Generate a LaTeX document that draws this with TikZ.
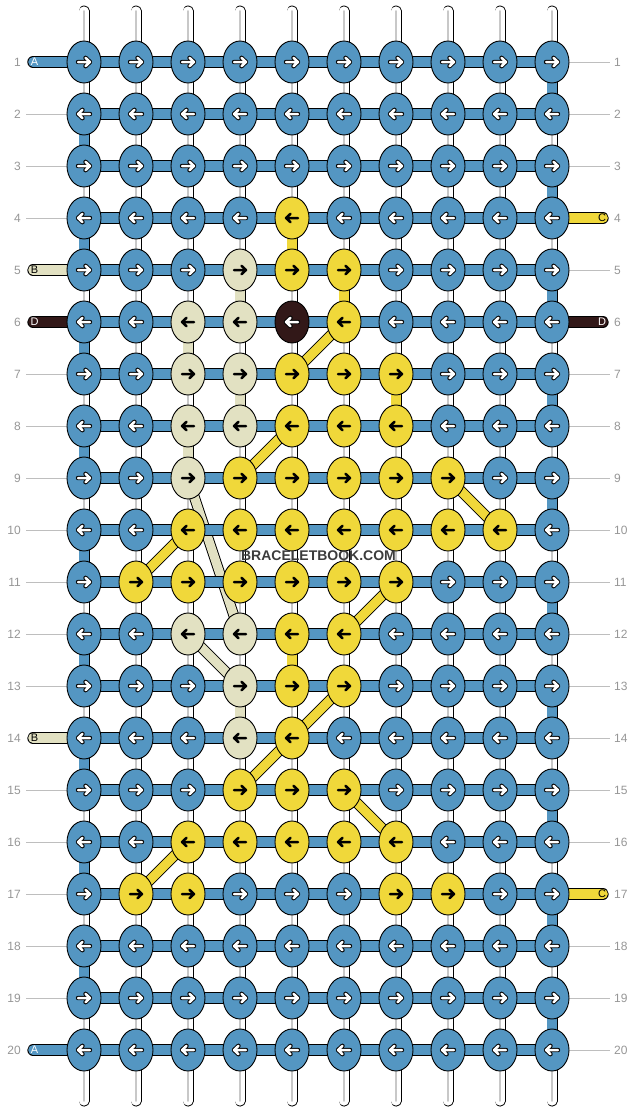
\documentclass[tikz,border=0pt]{standalone}
\usepackage{fontspec}
\setmainfont{Liberation Sans}
\usetikzlibrary{shapes.geometric}
\definecolor{kb}{RGB}{84,150,194}
\definecolor{ky}{RGB}{240,216,58}
\definecolor{ke}{RGB}{226,225,194}
\definecolor{kd}{RGB}{50,24,24}
\definecolor{lgray}{RGB}{200,200,200}
\definecolor{labgray}{RGB}{150,150,150}
\definecolor{linegray}{RGB}{190,190,190}
\definecolor{wmgray}{RGB}{60,60,60}
\colorlet{ob}{black}\colorlet{od}{black}\colorlet{oy}{ky}\colorlet{oe}{ke}
\colorlet{ib}{white}\colorlet{id}{white}\colorlet{iy}{black}\colorlet{ie}{black}
\pgfdeclarelayer{vlayer}\pgfdeclarelayer{dlayer}\pgfdeclarelayer{hlayer}
\pgfsetlayers{vlayer,dlayer,hlayer,main}
\tikzset{
  knot/.style={ellipse, draw=black, line width=0.9, minimum width=34, minimum height=42, inner sep=0},
  vwhite/.style={draw=black, line width=0.9, double=white, double distance=9.2},
  vcore/.style={draw=lgray, line width=1.6},
  vcol/.style={draw=black, line width=0.9, double=#1, double distance=9.2},
  hbar/.style={draw=black, line width=0.9, double=#1, double distance=9.6},
  diagband/.style={draw=black, line width=0.9, double=#1, double distance=9},
  tabband/.style={draw=black, line width=0.9, double=#1, double distance=9.6, line cap=round},
  gline/.style={draw=linegray, line width=0.8},
  lab/.style={text=labgray, font=\fontsize{12}{12}\selectfont, inner sep=0},
  tabtxt/.style={font=\fontsize{11}{11}\selectfont, inner sep=0},
  arrowo/.style={line width=4.4, line cap=round, line join=round},
  arrowi/.style={line width=2.5, line cap=round, line join=round}
}
\begin{document}
\begin{tikzpicture}[x=1pt,y=-1pt]
\useasboundingbox (0,0) rectangle (636,1112);
% knots
\foreach \r/\row in {
 1/{b,b,b,b,b,b,b,b,b,b},
 2/{b,b,b,b,b,b,b,b,b,b},
 3/{b,b,b,b,b,b,b,b,b,b},
 4/{b,b,b,b,y,b,b,b,b,b},
 5/{b,b,b,e,y,y,b,b,b,b},
 6/{b,b,e,e,d,y,b,b,b,b},
 7/{b,b,e,e,y,y,y,b,b,b},
 8/{b,b,e,e,y,y,y,b,b,b},
 9/{b,b,e,y,y,y,y,y,b,b},
 10/{b,b,y,y,y,y,y,y,y,b},
 11/{b,y,y,y,y,y,y,b,b,b},
 12/{b,b,e,e,y,y,b,b,b,b},
 13/{b,b,b,e,y,y,b,b,b,b},
 14/{b,b,b,e,y,b,b,b,b,b},
 15/{b,b,b,y,y,y,b,b,b,b},
 16/{b,b,y,y,y,y,y,b,b,b},
 17/{b,y,y,b,b,b,y,y,b,b},
 18/{b,b,b,b,b,b,b,b,b,b},
 19/{b,b,b,b,b,b,b,b,b,b},
 20/{b,b,b,b,b,b,b,b,b,b}} {
  \pgfmathsetmacro\yy{62+52*(\r-1)}
  \pgfmathsetmacro\dd{ifthenelse(mod(\r,2)==1,1,-1)}
  \foreach \cl [count=\c] in \row {
    \pgfmathsetmacro\xx{84+52*(\c-1)}
    \node[knot, fill=k\cl] (k\r-\c) at (\xx,\yy) {};
    \begin{scope}[shift={(k\r-\c.center)}, xscale=\dd]
      \draw[arrowo, draw=o\cl] (-6,0) -- (6,0) (1.5,-4.2) -- (6,0) -- (1.5,4.2);
      \draw[arrowi, draw=i\cl] (-6,0) -- (6,0) (1.5,-4.2) -- (6,0) -- (1.5,4.2);
    \end{scope}
  }
  \node[lab, anchor=east] (ll\r) at (21,\yy) {\r};
  \node[lab, anchor=west] (rl\r) at (614,\yy) {\r};
  \coordinate (gl\r) at (26,\yy);
  \coordinate (gr\r) at (610,\yy);
  \coordinate (tl\r) at (33,\yy);
  \coordinate (tr\r) at (603,\yy);
}
\foreach \c in {1,...,10} {
  \pgfmathsetmacro\xx{84+52*(\c-1)}
  \coordinate (t\c) at (\xx,11);
  \coordinate (b\c) at (\xx,1101);
}
% vertical strands
\begin{pgfonlayer}{vlayer}
\foreach \c in {1,...,10} {
  \draw[vwhite, line cap=round] (t\c) -- (k1-\c.center);
  \draw[vcore, line cap=round] (t\c) -- (k1-\c.center);
  \draw[vwhite, line cap=round] (k20-\c.center) -- (b\c);
  \draw[vcore, line cap=round] (k20-\c.center) -- (b\c);
  \foreach \r in {1,...,19} {
    \pgfmathtruncatemacro\s{\r+1}
    \draw[vwhite] (k\r-\c.center) -- (k\s-\c.center);
    \draw[vcore] (k\r-\c.center) -- (k\s-\c.center);
  }
}
\foreach \r/\c/\cl in {1/10/kb,3/10/kb,5/10/kb,7/10/kb,9/10/kb,11/10/kb,13/10/kb,15/10/kb,17/10/kb,19/10/kb,
  2/1/kb,4/1/kb,6/1/kb,8/1/kb,10/1/kb,12/1/kb,14/1/kb,16/1/kb,18/1/kb,
  4/5/ky,5/4/ke,5/6/ky,6/3/ke,7/4/ke,7/7/ky,8/3/ke,12/5/ky,13/4/ke} {
  \pgfmathtruncatemacro\s{\r+1}
  \draw[vcol=\cl] (k\r-\c.center) -- (k\s-\c.center);
}
\end{pgfonlayer}
% diagonal strands
\begin{pgfonlayer}{dlayer}
\foreach \ra/\ca/\rb/\cb/\cl in {6/6/7/5/ky, 8/5/9/4/ky, 9/3/12/4/ke, 9/8/10/9/ky, 10/3/11/2/ky,
  11/7/12/6/ky, 12/3/13/4/ke, 13/6/14/5/ky, 14/5/15/4/ky, 15/6/16/7/ky, 16/3/17/2/ky}
  \draw[diagband=\cl] (k\ra-\ca.center) -- (k\rb-\cb.center);
\end{pgfonlayer}
% horizontal bars, tabs, side lines
\begin{pgfonlayer}{hlayer}
\foreach \r in {1,...,20} {
  \foreach \c in {1,...,9} {
    \pgfmathtruncatemacro\d{\c+1}
    \draw[hbar=kb] (k\r-\c.center) -- (k\r-\d.center);
  }
}
\foreach \r/\cl in {1/kb,5/ke,6/kd,14/ke,20/kb}
  \draw[tabband=\cl] (tl\r) -- (k\r-1.center);
\foreach \r/\cl in {4/ky,6/kd,17/ky}
  \draw[tabband=\cl] (k\r-10.center) -- (tr\r);
\foreach \r in {2,3,4,7,8,9,10,11,12,13,15,16,17,18,19}
  \draw[gline] (gl\r) -- (k\r-1.west);
\foreach \r in {1,2,3,5,7,8,9,10,11,12,13,14,15,16,18,19,20}
  \draw[gline] (k\r-10.east) -- (gr\r);
\end{pgfonlayer}
% tab letters
\foreach \r/\tc/\tx in {1/white/A,5/black/B,6/white/D,14/black/B,20/white/A}
  \node[tabtxt, text=\tc] (lt\r) at (34.5,{62+52*(\r-1)}) {\tx};
\foreach \r/\tc/\tx in {4/black/C,6/white/D,17/black/C}
  \node[tabtxt, text=\tc] (rt\r) at (602,{62+52*(\r-1)}) {\tx};
% watermark
\node[text=wmgray, font=\bfseries\fontsize{14}{14}\selectfont, inner sep=0] (wm) at (318.5,556) {BRACELETBOOK.COM};
\end{tikzpicture}
\end{document}
